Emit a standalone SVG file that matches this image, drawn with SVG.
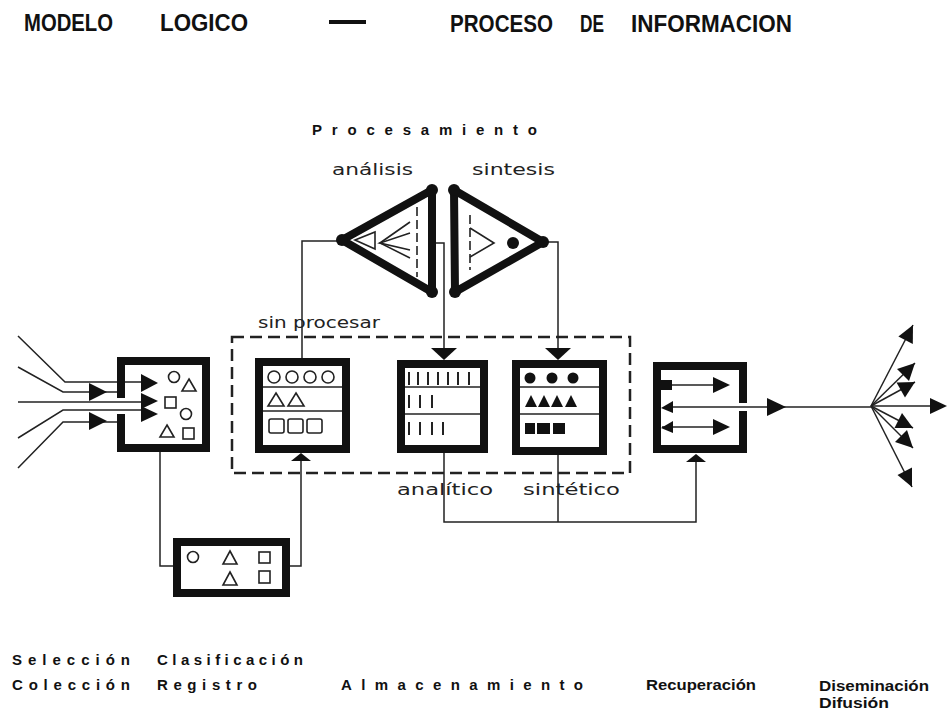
<svg xmlns="http://www.w3.org/2000/svg" width="947" height="713" viewBox="0 0 947 713">
<style>
.bg{fill:#fff}
.thick{fill:none;stroke:#111;stroke-width:8;stroke-linejoin:miter}
.tri{fill:none;stroke:#111;stroke-width:8;stroke-linejoin:round}
.thin{fill:none;stroke:#222;stroke-width:1.5}
.div{fill:none;stroke:#222;stroke-width:1.6}
.sym{fill:none;stroke:#222;stroke-width:1.6}
.tick{fill:none;stroke:#222;stroke-width:2}
.ah{fill:#111;stroke:none}
.dash{fill:none;stroke:#222;stroke-width:2.5;stroke-dasharray:12 6}
.title{font-family:"Liberation Sans",Arial,sans-serif;font-weight:bold;font-size:23px;fill:#111}
.lbl{font-family:"Liberation Sans",Arial,sans-serif;font-weight:bold;font-size:15px;fill:#111}
.sub{font-family:"DejaVu Sans","Liberation Sans",sans-serif;font-size:15px;fill:#222}
</style>
<rect class="bg" x="0" y="0" width="947" height="713"/>

<g id="title">
<text class="title" x="24" y="31" textLength="89" lengthAdjust="spacingAndGlyphs">MODELO</text>
<text class="title" x="160" y="31" textLength="88" lengthAdjust="spacingAndGlyphs">LOGICO</text>
<rect x="329" y="20" width="37" height="4" fill="#111"/>
<text class="title" x="450" y="32" textLength="103" lengthAdjust="spacingAndGlyphs">PROCESO</text>
<text class="title" x="580" y="32" textLength="24" lengthAdjust="spacingAndGlyphs">DE</text>
<text class="title" x="631" y="32" textLength="161" lengthAdjust="spacingAndGlyphs">INFORMACION</text>
</g>

<g id="labels-top">
<text class="lbl" x="312" y="135" textLength="225" lengthAdjust="spacing">Procesamiento</text>
<text class="sub" x="332" y="175" textLength="81" lengthAdjust="spacingAndGlyphs">análisis</text>
<text class="sub" x="472" y="175" textLength="83" lengthAdjust="spacingAndGlyphs">sintesis</text>
<text class="sub" x="258" y="328" textLength="122" lengthAdjust="spacingAndGlyphs">sin procesar</text>
<text class="sub" x="397" y="495" textLength="96" lengthAdjust="spacingAndGlyphs">analítico</text>
<text class="sub" x="523" y="495" textLength="97" lengthAdjust="spacingAndGlyphs">sintético</text>
</g>

<g id="connectors">
<polyline class="thin" points="18,336 65,382 143,382"/>
<polyline class="thin" points="18,367 63,392 117,392"/>
<polyline class="thin" points="18,402 143,402"/>
<polyline class="thin" points="18,438 63,410 143,410"/>
<polyline class="thin" points="18,468 63,422 117,422"/>
<polygon class="ah" points="89,383 107,392 89,401"/>
<polygon class="ah" points="89,412 107,421 89,430"/>
<polygon class="ah" points="141,374 158,383 141,392"/>
<polygon class="ah" points="141,393 158,401 141,409"/>
<polygon class="ah" points="141,406 158,414 141,422"/>
<polyline class="thin" points="160,452 160,566 173,566"/>
<polyline class="thin" points="290,566 301,566 301,459"/>
<polygon class="ah" points="301,453 291,461 311,461"/>
<polyline class="thin" points="342,241 302,241 302,358"/>
<polyline class="thin" points="432,243 444,243 444,352"/>
<polygon class="ah" points="431,348 457,348 444,360"/>
<polyline class="thin" points="543,242 558,242 558,352"/>
<polygon class="ah" points="545,348 571,348 558,360"/>
<polyline class="thin" points="444,453 444,522 696,522 696,460"/>
<line class="thin" x1="558" y1="455" x2="558" y2="522"/>
<polygon class="ah" points="696,454 686,462 706,462"/>
<line class="thin" x1="673" y1="407" x2="871" y2="407"/>
<polygon class="ah" points="767,398 786,407 767,416"/>
<line class="thin" x1="871" y1="406" x2="913" y2="325"/>
<line class="thin" x1="871" y1="406" x2="915" y2="363"/>
<line class="thin" x1="871" y1="406" x2="915" y2="382"/>
<line class="thin" x1="871" y1="406" x2="945" y2="406"/>
<line class="thin" x1="871" y1="406" x2="913" y2="428"/>
<line class="thin" x1="871" y1="406" x2="913" y2="448"/>
<line class="thin" x1="871" y1="406" x2="912" y2="487"/>
<polygon class="ah" points="913,325 912.8,344 898.4,336.5"/>
<polygon class="ah" points="915,363 909,381 897,369"/>
<polygon class="ah" points="915,382 905,397.5 896.5,382.5"/>
<polygon class="ah" points="947,406 930,398 930,414"/>
<polygon class="ah" points="913,428 894.5,428 902,413"/>
<polygon class="ah" points="913,448 895,442 907,430"/>
<polygon class="ah" points="912,487 897.5,475 912,467.5"/>
</g>

<g id="analisis">
<path class="tri" d="M342,240 L432,190 L432,292 Z"/>
<circle class="ah" cx="342" cy="240" r="6"/>
<circle class="ah" cx="432" cy="190" r="6"/>
<circle class="ah" cx="432" cy="292" r="6"/>
<line class="sym" x1="417" y1="207" x2="417" y2="277" stroke-dasharray="9 4"/>
<polygon class="sym" points="355,240 375,232 375,249"/>
<polyline class="sym" points="410,222 380,243 410,258"/>
<polyline class="sym" points="410,233 380,243 410,250"/>
</g>

<g id="sintesis">
<path class="tri" d="M454,190 L543,242 L455,292 Z"/>
<circle class="ah" cx="454" cy="190" r="6"/>
<circle class="ah" cx="455" cy="292" r="6"/>
<circle class="ah" cx="543" cy="242" r="6"/>
<line class="sym" x1="470" y1="215" x2="470" y2="270" stroke-dasharray="9 4"/>
<polyline class="sym" points="470,228 494,243 470,257"/>
<circle class="ah" cx="513" cy="243" r="6"/>
</g>

<g id="seleccion">
<path class="thick" d="M121,398 V361 H206 V448 H121 V414"/>
<circle class="sym" cx="174" cy="377" r="5.5"/>
<polygon class="sym" points="189,379 196,391 182,391"/>
<rect class="sym" x="165" y="397" width="11" height="11"/>
<circle class="sym" cx="186" cy="414" r="5.5"/>
<polygon class="sym" points="167,425 174,437 160,437"/>
<rect class="sym" x="183" y="428" width="11" height="11"/>
</g>

<g id="registro">
<rect class="thick" x="177" y="542" width="109" height="51"/>
<circle class="sym" cx="193" cy="557" r="5.5"/>
<polygon class="sym" points="230,551 237,564 223,564"/>
<polygon class="sym" points="230,572 237,585 223,585"/>
<rect class="sym" x="259" y="552" width="11" height="11"/>
<rect class="sym" x="259" y="571" width="11" height="12"/>
</g>

<g id="sin-procesar">
<rect class="dash" x="232" y="337" width="398" height="136"/>
<rect class="thick" x="259" y="362" width="87" height="87"/>
<line class="div" x1="263" y1="387" x2="342" y2="387"/>
<line class="div" x1="263" y1="411" x2="342" y2="411"/>
<circle class="sym" cx="274" cy="377" r="6"/>
<circle class="sym" cx="292" cy="377" r="6"/>
<circle class="sym" cx="310" cy="377" r="6"/>
<circle class="sym" cx="328" cy="377" r="6"/>
<polygon class="sym" points="276,393 284,406 268,406"/>
<polygon class="sym" points="296,393 304,406 288,406"/>
<rect class="sym" x="269" y="419" width="15" height="14" rx="2"/>
<rect class="sym" x="288" y="419" width="15" height="14" rx="2"/>
<rect class="sym" x="307" y="419" width="15" height="14" rx="2"/>
</g>

<g id="analitico">
<rect class="thick" x="401" y="364" width="83" height="85"/>
<line class="div" x1="405" y1="387" x2="480" y2="387"/>
<line class="div" x1="405" y1="414" x2="480" y2="414"/>
<g class="tick">
<line x1="409" y1="372" x2="409" y2="385"/><line x1="418" y1="372" x2="418" y2="385"/><line x1="428" y1="372" x2="428" y2="385"/><line x1="438" y1="372" x2="438" y2="385"/><line x1="448" y1="372" x2="448" y2="385"/><line x1="458" y1="372" x2="458" y2="385"/><line x1="469" y1="372" x2="469" y2="385"/>
<line x1="409" y1="395" x2="409" y2="408"/><line x1="420" y1="395" x2="420" y2="408"/><line x1="432" y1="395" x2="432" y2="408"/>
<line x1="409" y1="422" x2="409" y2="435"/><line x1="420" y1="422" x2="420" y2="435"/><line x1="432" y1="422" x2="432" y2="435"/><line x1="443" y1="422" x2="443" y2="435"/>
</g>
</g>

<g id="sintetico">
<rect class="thick" x="516" y="364" width="87" height="87"/>
<line class="div" x1="520" y1="387" x2="599" y2="387"/>
<line class="div" x1="520" y1="414" x2="599" y2="414"/>
<circle class="ah" cx="530" cy="378" r="5.5"/>
<circle class="ah" cx="552" cy="378" r="5.5"/>
<circle class="ah" cx="573" cy="378" r="5.5"/>
<polygon class="ah" points="531,395 537,407 525,407"/>
<polygon class="ah" points="544,395 550,407 538,407"/>
<polygon class="ah" points="557,395 563,407 551,407"/>
<polygon class="ah" points="571,395 577,407 565,407"/>
<rect class="ah" x="525" y="423" width="10" height="11"/>
<rect class="ah" x="537" y="423" width="13" height="11"/>
<rect class="ah" x="553" y="423" width="12" height="11"/>
</g>

<g id="recuperacion">
<path class="thick" d="M743,403 V366 H657 V449 H743 V411"/>
<line class="thin" x1="662" y1="385" x2="716" y2="385"/>
<line class="thin" x1="662" y1="427" x2="716" y2="427"/>
<rect class="ah" x="661" y="380" width="11" height="10"/>
<polygon class="ah" points="661,408 673,401 673,413"/>
<polygon class="ah" points="661,428 673,421 673,433"/>
<polygon class="ah" points="713,377 730,385 713,393"/>
<polygon class="ah" points="713,419 730,427 713,435"/>
</g>

<g id="labels-bottom">
<text class="lbl" x="12" y="665" textLength="118" lengthAdjust="spacing">Selección</text>
<text class="lbl" x="157" y="665" textLength="146" lengthAdjust="spacing">Clasificación</text>
<text class="lbl" x="12" y="690" textLength="118" lengthAdjust="spacing">Colección</text>
<text class="lbl" x="157" y="690" textLength="100" lengthAdjust="spacing">Registro</text>
<text class="lbl" x="341" y="690" textLength="242" lengthAdjust="spacing">Almacenamiento</text>
<text class="lbl" x="646" y="690" textLength="110" lengthAdjust="spacingAndGlyphs">Recuperación</text>
<text class="lbl" x="819" y="691" textLength="110" lengthAdjust="spacingAndGlyphs">Diseminación</text>
<text class="lbl" x="819" y="708" textLength="70" lengthAdjust="spacingAndGlyphs">Difusión</text>
</g>
</svg>
